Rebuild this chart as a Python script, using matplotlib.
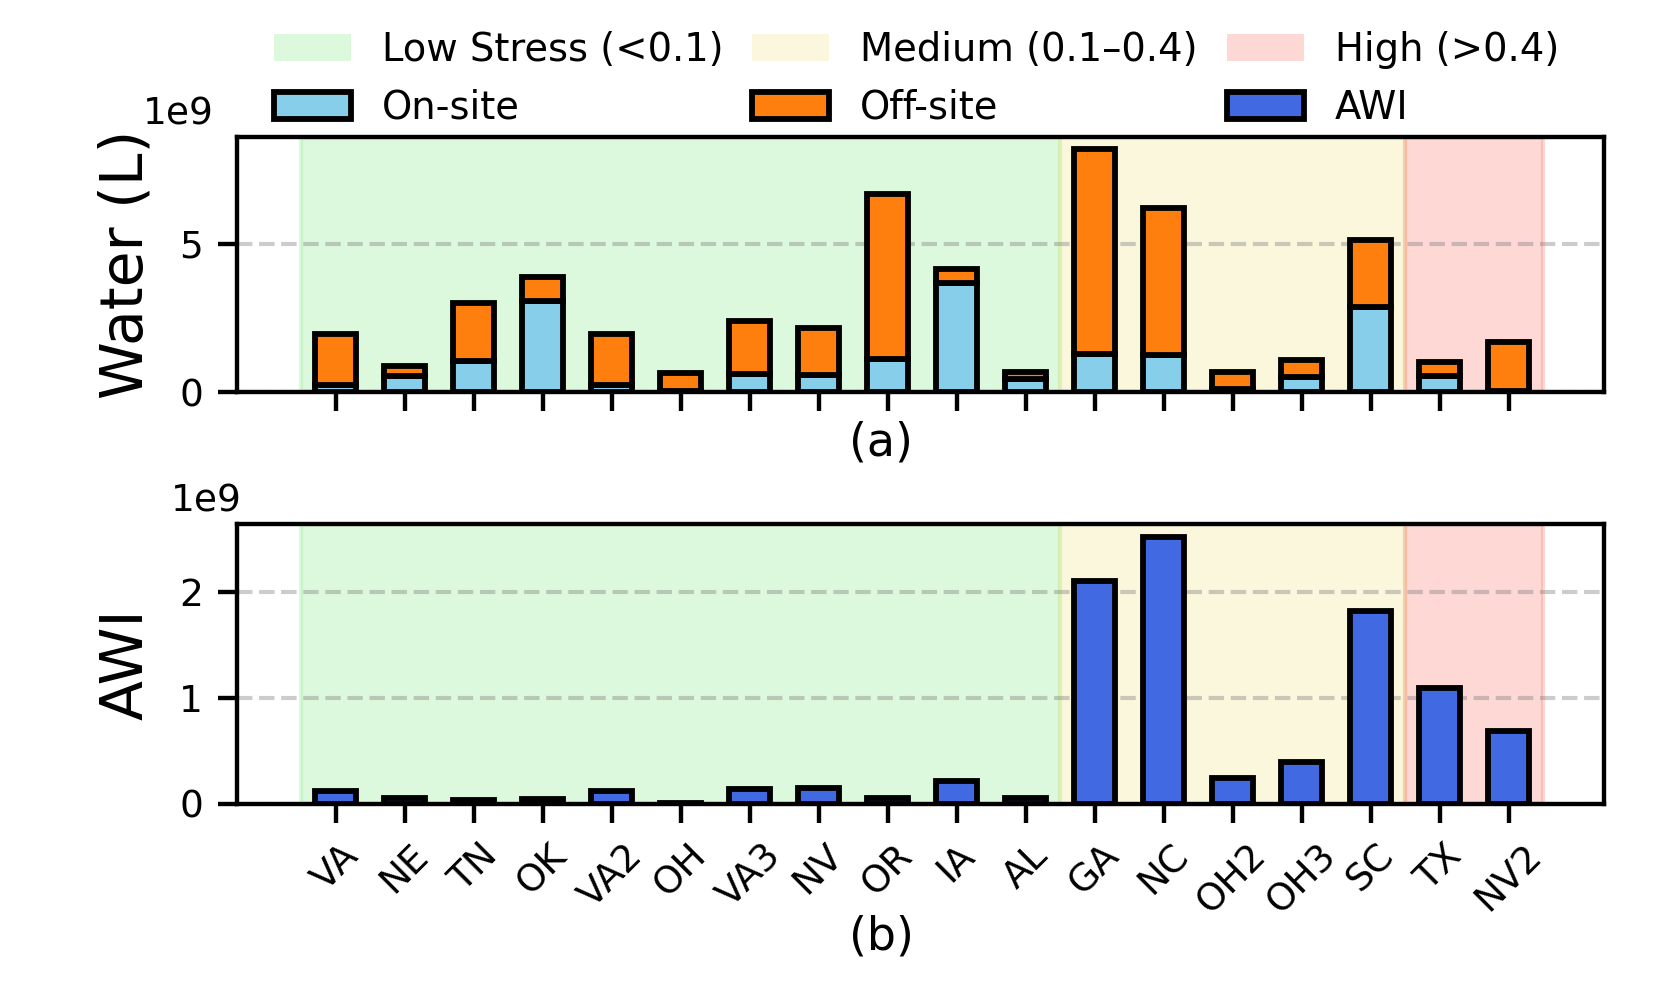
import numpy as np
import matplotlib.pyplot as plt
from matplotlib.patches import Patch

# =============================================================================
# Data
# =============================================================================
sites = ['VA', 'NE', 'TN', 'OK', 'VA2', 'OH', 'VA3', 'NV', 'OR', 'IA', 'AL',
         'GA', 'NC', 'OH2', 'OH3', 'SC', 'TX', 'NV2']

# water use in litres (units of 1e9)
onsite = [0.25, 0.55, 1.05, 3.07, 0.25, 0.05, 0.62, 0.57, 1.10, 3.68, 0.45,
          1.28, 1.24, 0.10, 0.52, 2.88, 0.55, 0.02]
total = [1.95, 0.87, 3.01, 3.87, 1.95, 0.64, 2.40, 2.14, 6.67, 4.14, 0.67,
         8.18, 6.21, 0.69, 1.09, 5.11, 1.01, 1.69]
offsite = [t - o for t, o in zip(total, onsite)]

# available water index (units of 1e9)
awi = [0.12, 0.05, 0.03, 0.04, 0.12, 0.01, 0.14, 0.15, 0.05, 0.21, 0.05,
       2.11, 2.52, 0.24, 0.39, 1.82, 1.09, 0.69]

# water stress regions: (start index, end index, label, colour)
stress_regions = [(0, 10, 'Low Stress (<0.1)', 'lightgreen'),
                  (11, 15, 'Medium (0.1\u20130.4)', 'khaki'),
                  (16, 17, 'High (>0.4)', 'salmon')]

scale = 1e9
x = np.arange(len(sites))
bar_w = 0.6
lw = 1.4

plt.rcParams['font.family'] = 'DejaVu Sans'
plt.rcParams['font.size'] = 9
plt.rcParams['axes.linewidth'] = 1.05
plt.rcParams['xtick.major.width'] = 1.05
plt.rcParams['ytick.major.width'] = 1.05
plt.rcParams['xtick.major.size'] = 4.6
plt.rcParams['ytick.major.size'] = 4.6

fig = plt.figure(figsize=(1663 / 300, 990 / 300), dpi=300)
ax1 = fig.add_axes([0.1425, 0.604, 0.822, 0.2576])
ax2 = fig.add_axes([0.1425, 0.1883, 0.822, 0.2824])


def shade(ax):
    for start, end, label, color in stress_regions:
        ax.axvspan(start - 0.5, end + 0.5, color=color, alpha=0.3, zorder=0)


# -----------------------------------------------------------------------------
# (a) on-site / off-site water
# -----------------------------------------------------------------------------
shade(ax1)
ax1.bar(x, [v * scale for v in onsite], bar_w, color='skyblue',
        edgecolor='black', linewidth=lw, zorder=3)
ax1.bar(x, [v * scale for v in offsite], bar_w,
        bottom=[v * scale for v in onsite], color='#ff7f0e',
        edgecolor='black', linewidth=lw, zorder=3)
ax1.set_ylabel('Water (L)', fontsize=14, labelpad=6)
ax1.set_xticks(x)
ax1.set_xticklabels([])
ax1.grid(axis='y', linestyle='--', color='gray', alpha=0.4, linewidth=1,
         zorder=1)
ax1.set_xlim(-1.43, len(sites) - 1 + 1.38)
ax1.yaxis.get_offset_text().set_x(-0.069)

# -----------------------------------------------------------------------------
# (b) AWI
# -----------------------------------------------------------------------------
shade(ax2)
ax2.bar(x, [v * scale for v in awi], bar_w, color='royalblue',
        edgecolor='black', linewidth=lw, zorder=3)
ax2.set_ylabel('AWI', fontsize=14, labelpad=6)
ax2.set_xticks(x)
ax2.set_xticklabels(sites, rotation=45)
ax2.grid(axis='y', linestyle='--', color='gray', alpha=0.4, linewidth=1,
         zorder=1)
ax2.set_xlim(-1.43, len(sites) - 1 + 1.38)
ax2.yaxis.get_offset_text().set_x(-0.048)

fig.text(0.53, 0.5525, '(a)', ha='center', va='center', fontsize=11)
fig.text(0.53, 0.0535, '(b)', ha='center', va='center', fontsize=11)

# legend: stress bands on top row, bar series below
handles = []
bar_handles = [Patch(facecolor='skyblue', edgecolor='black', linewidth=lw, label='On-site'),
               Patch(facecolor='#ff7f0e', edgecolor='black', linewidth=lw, label='Off-site'),
               Patch(facecolor='royalblue', edgecolor='black', linewidth=lw, label='AWI')]
for (s, e, label, color), bh in zip(stress_regions, bar_handles):
    handles.append(Patch(facecolor=color, alpha=0.3, label=label))
    handles.append(bh)
ax1.legend(handles=handles, ncol=3, loc='lower center', fontsize=9.25,
           bbox_to_anchor=(0.497, 0.905), frameon=False, columnspacing=0.75)

plt.savefig('out.png', dpi=300)
plt.close()
